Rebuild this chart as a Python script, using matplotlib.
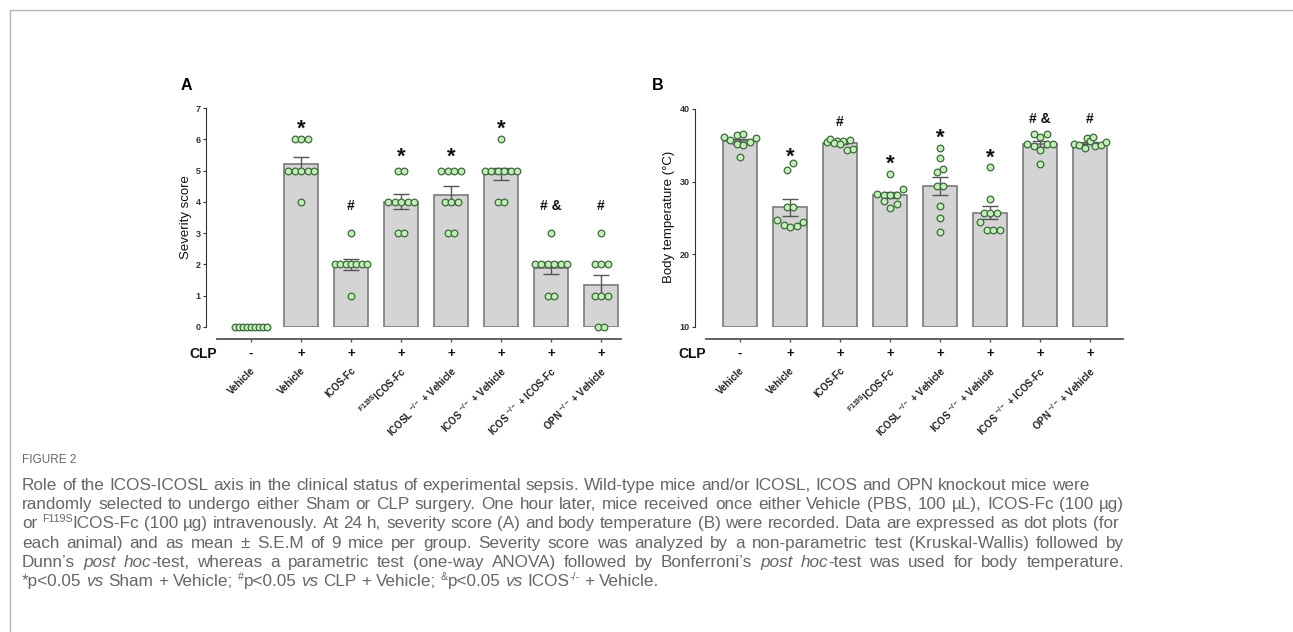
import re

import numpy as np
import matplotlib

matplotlib.use("Agg")
import matplotlib.pyplot as plt
from matplotlib.lines import Line2D
from matplotlib.transforms import blended_transform_factory

plt.rcParams["font.family"] = ["Liberation Sans", "DejaVu Sans"]
plt.rcParams["mathtext.fontset"] = "custom"
plt.rcParams["mathtext.rm"] = "Liberation Sans"
plt.rcParams["mathtext.default"] = "regular"

# ---- data -------------------------------------------------------------
group_labels = [
    "Vehicle",
    "Vehicle",
    "ICOS-Fc",
    r"$^{F119S}$ICOS-Fc",
    r"ICOSL $^{-/-}$ + Vehicle",
    r"ICOS $^{-/-}$ + Vehicle",
    r"ICOS $^{-/-}$ + ICOS-Fc",
    r"OPN $^{-/-}$ + Vehicle",
]
clp = ["-", "+", "+", "+", "+", "+", "+", "+"]

severity = [
    [0, 0, 0, 0, 0, 0, 0, 0, 0],
    [6, 6, 6, 5, 5, 5, 5, 5, 4],
    [3, 2, 2, 2, 2, 2, 2, 2, 1],
    [5, 5, 4, 4, 4, 4, 4, 3, 3],
    [5, 5, 5, 5, 4, 4, 4, 3, 3],
    [6, 5, 5, 5, 5, 5, 5, 4, 4],
    [3, 2, 2, 2, 2, 2, 2, 1, 1],
    [3, 2, 2, 2, 1, 1, 1, 0, 0],
]
severity_marks = ["", "*", "#", "*", "*", "*", "# &", "#"]
severity_mark_y = [0, 6.55, 3.9, 5.65, 5.65, 6.55, 3.9, 3.9]

temperature = [
    [36.1, 35.7, 36.4, 36.5, 35.2, 35.0, 35.5, 36.0, 33.4],
    [31.6, 32.6, 26.5, 26.5, 24.7, 24.1, 23.7, 23.9, 24.5],
    [35.4, 35.9, 35.6, 35.6, 35.7, 35.3, 35.2, 34.4, 34.5],
    [31.0, 28.3, 28.2, 28.2, 28.2, 29.0, 27.3, 26.4, 26.9],
    [34.6, 33.3, 31.3, 31.7, 29.4, 29.4, 26.6, 25.0, 23.1],
    [32.0, 27.6, 25.7, 25.7, 25.7, 24.5, 23.4, 23.4, 23.4],
    [36.6, 36.2, 36.6, 35.2, 34.9, 34.4, 35.2, 35.2, 32.4],
    [35.2, 36.0, 35.1, 34.6, 35.6, 34.9, 36.1, 35.1, 35.5],
]
temperature_marks = ["", "*", "#", "*", "*", "*", "# &", "#"]
temperature_mark_y = [0, 34.3, 38.4, 33.3, 37.0, 34.2, 38.7, 38.7]

caption_head = "FIGURE 2"
caption_lines = [
    [("Role of the ICOS-ICOSL axis in the clinical status of experimental sepsis. "
      "Wild-type mice and/or ICOSL, ICOS and OPN knockout mice were", "")],
    [("randomly selected to undergo either Sham or CLP surgery. One hour later, mice "
      "received once either Vehicle (PBS, 100 µL), ICOS-Fc (100 µg)", "")],
    [("or ", ""), ("F119S", "sup"),
     ("ICOS-Fc (100 µg) intravenously. At 24 h, severity score (A) and body temperature "
      "(B) were recorded. Data are expressed as dot plots (for", "")],
    [("each animal) and as mean ± S.E.M of 9 mice per group. Severity score was analyzed "
      "by a non-parametric test (Kruskal-Wallis) followed by", "")],
    [("Dunn’s ", ""), ("post hoc", "i"),
     ("-test, whereas a parametric test (one-way ANOVA) followed by Bonferroni’s ", ""),
     ("post hoc", "i"), ("-test was used for body temperature.", "")],
    [("*p<0.05 ", ""), ("vs", "i"), (" Sham + Vehicle; ", ""), ("#", "sup"),
     ("p<0.05 ", ""), ("vs", "i"), (" CLP + Vehicle; ", ""), ("&", "sup"),
     ("p<0.05 ", ""), ("vs", "i"), (" ICOS", ""), ("-/-", "sup"), (" + Vehicle.", "")],
]
justified = [False, True, False, True, True, False]

# ---- layout -----------------------------------------------------------
W, H = 1293, 632
PITCH = 50.0  # px between bar centres
BAR_FILL = "#d4d4d4"
DOT_FILL = "#c4edba"
DOT_EDGE = "#3d6a3d"
CAP_COLOR = "#666666"

fig = plt.figure(figsize=(W / 100, H / 100), dpi=100)


def px_axes(left, top, right, bottom):
    return fig.add_axes([left / W, 1 - bottom / H, (right - left) / W, (bottom - top) / H])


def text_px(x, y, s, **kw):
    return fig.text(x / W, 1 - y / H, s, **kw)


def spread(vals, ppu, gap=6.5, thresh=8.0, maxhalf=16.0):
    """Horizontal offsets (x units) so close values sit side by side."""
    vals = np.asarray(vals, float)
    order = np.argsort(vals, kind="stable")
    rows, cur = [], [order[0]]
    for i in order[1:]:
        if (vals[i] - vals[cur[0]]) * ppu < thresh:
            cur.append(i)
        else:
            rows.append(cur)
            cur = [i]
    rows.append(cur)
    offs = np.zeros(len(vals))
    for row in rows:
        row = sorted(row)
        n = len(row)
        step = gap if n < 2 else min(gap, 2 * maxhalf / (n - 1))
        for k, i in enumerate(row):
            offs[i] = (k - (n - 1) / 2) * step
    return offs / PITCH


def draw_panel(ax, data, ymin, ymax, yticks, ppu, marks, mark_y, xmax):
    x = np.arange(len(data))
    means = np.array([np.mean(d) for d in data])
    sems = np.array([np.std(d, ddof=1) / np.sqrt(len(d)) for d in data])

    ax.bar(x, means - ymin, bottom=ymin, width=0.68, color=BAR_FILL,
           edgecolor="#7a7a7a", linewidth=1.2, zorder=2)
    ax.errorbar(x, means, yerr=sems, fmt="none", ecolor="#555555",
                elinewidth=1, capsize=6, capthick=1, zorder=3)
    for i, d in enumerate(data):
        xs = i + spread(d, ppu)
        ax.plot(xs, d, "o", ms=4.8, mfc=DOT_FILL, mec=DOT_EDGE, mew=0.9,
                zorder=4, clip_on=False)

    for i, (m, y) in enumerate(zip(marks, mark_y)):
        if not m:
            continue
        if m == "*":
            fs, off = 16, 0.56
        else:
            fs, off = 10, 0.36
        ax.annotate(m, (i, y), xytext=(0, -off * fs), textcoords="offset points",
                    ha="center", va="baseline", fontsize=fs, fontweight="bold",
                    color="#111111")

    ax.set_xlim(-0.9, xmax)
    ax.set_ylim(ymin, ymax)
    ax.set_yticks(yticks)
    ax.set_xticks(x)
    ax.set_xticklabels([""] * len(x))
    for s in ("top", "right"):
        ax.spines[s].set_visible(False)
    ax.spines["left"].set_color("#333333")
    ax.spines["left"].set_linewidth(0.8)
    ax.spines["bottom"].set_position(("outward", 8.6))
    ax.spines["bottom"].set_bounds(-0.68, xmax)
    ax.spines["bottom"].set_color("#555555")
    ax.spines["bottom"].set_linewidth(1.3)
    ax.tick_params(axis="y", labelsize=6.5, length=2.5, width=0.8, pad=1.5,
                   colors="#333333")
    ax.tick_params(axis="x", length=2.5, width=1, colors="#555555")
    for lbl in ax.get_yticklabels():
        lbl.set_fontweight("bold")
    ax.patch.set_visible(False)

    trans = blended_transform_factory(ax.transData, fig.transFigure)
    ax.text(-0.96, 1 - 354 / H, "CLP", transform=trans, ha="center", va="center",
            fontsize=10, fontweight="bold", color="#111111")
    for i, (sign, lab) in enumerate(zip(clp, group_labels)):
        ax.text(i, 1 - 354 / H, sign, transform=trans, ha="center", va="center",
                fontsize=9.5, fontweight="bold", color="#111111")
        ax.text(i + 3 / PITCH, 1 - 369 / H, lab, transform=trans, rotation=45,
                rotation_mode="anchor", ha="right", va="center", fontsize=7,
                fontweight="bold", color="#222222")


axA = px_axes(206, 108, 206 + 8.3 * PITCH, 327)
draw_panel(axA, severity, 0, 7, range(8), 219 / 7, severity_marks,
           severity_mark_y, 7.4)
axB = px_axes(695, 109, 695 + 8.55 * PITCH, 327)
draw_panel(axB, temperature, 10, 40, [10, 20, 30, 40], 218 / 30,
           temperature_marks, temperature_mark_y, 7.65)

text_px(186, 217, "Severity score", rotation=90, ha="center", va="center",
        fontsize=9.5, color="#111111")
text_px(669, 217, "Body temperature (°C)", rotation=90, ha="center", va="center",
        fontsize=9.5, color="#111111")
text_px(186, 86, "A", ha="center", va="center", fontsize=11.5, fontweight="bold")
text_px(658, 86, "B", ha="center", va="center", fontsize=11.5, fontweight="bold")

# ---- frame ------------------------------------------------------------
fig.add_artist(Line2D([9.5 / W, 9.5 / W], [0, 1 - 10 / H], transform=fig.transFigure,
                      color="#b4b4b4", lw=1))
fig.add_artist(Line2D([9.5 / W, 1], [1 - 10 / H, 1 - 10 / H], transform=fig.transFigure,
                      color="#b4b4b4", lw=1))

# ---- caption ----------------------------------------------------------
renderer = fig.canvas.get_renderer()


def style_kw(style, size):
    kw = dict(fontsize=size, color=CAP_COLOR, va="baseline", ha="left")
    if style == "i":
        kw["fontstyle"] = "italic"
    if style == "sup":
        kw["fontsize"] = size * 0.62
    return kw


def width_of(s, style, size):
    t = text_px(0, 0, s, **style_kw(style, size))
    w = t.get_window_extent(renderer).width
    t.remove()
    return w


def run_line(x0, y, runs, size, width=None, draw=True):
    pieces = []
    for s, style in runs:
        for tok in re.split(r"( )", s):
            if tok:
                pieces.append((tok, style))
    space = width_of("a a", "", size) - width_of("aa", "", size)
    widths = [0 if s == " " else width_of(s, st, size) for s, st in pieces]
    nsp = sum(1 for s, _ in pieces if s == " ")
    natural = sum(widths) + nsp * space
    if not draw:
        return natural
    extra = (width - natural) / nsp if (width and nsp) else 0
    x = x0
    for (s, st), w in zip(pieces, widths):
        if s == " ":
            x += space + extra
            continue
        dy = -size * 0.36 * 100 / 72 if st == "sup" else 0
        text_px(x, y + dy, s, **style_kw(st, size))
        x += w
    return natural


cap_size = 11 * 1060 / run_line(22, 0, caption_lines[0], 11, draw=False)
text_px(22, 463, caption_head, fontsize=8.5, color=CAP_COLOR, va="baseline")
for k, (runs, just) in enumerate(zip(caption_lines, justified)):
    run_line(22, 490 + 19.2 * k, runs, cap_size, width=1102 if just else None)

fig.savefig("out.png", dpi=100)
